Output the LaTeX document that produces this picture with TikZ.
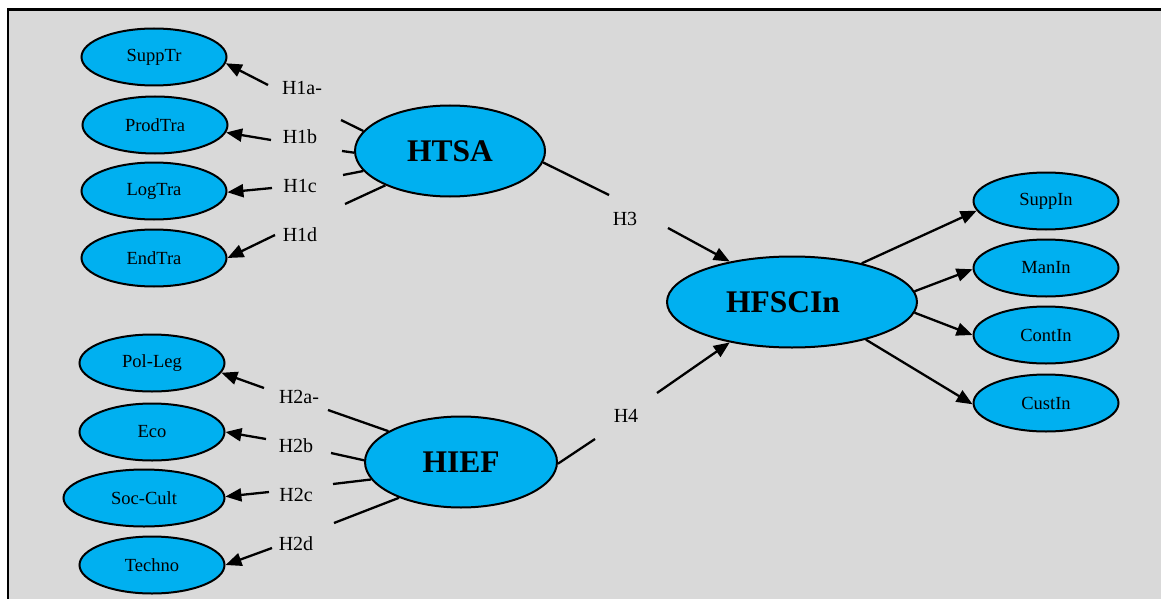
\documentclass[tikz,border=0pt]{standalone}
\usepackage{fontspec}
\setmainfont{Liberation Serif}
\usetikzlibrary{shapes.geometric,arrows.meta}
\definecolor{bgray}{HTML}{D9D9D9}
\definecolor{ecyan}{HTML}{00B0F0}
\begin{document}
\begin{tikzpicture}[x=1pt,y=-1pt,
  ell/.style={ellipse, draw=black, line width=2pt, fill=ecyan, inner sep=0pt,
    minimum width=145pt, minimum height=57pt, font=\fontsize{18.5}{20}\selectfont},
  big/.style={ellipse, draw=black, line width=2pt, fill=ecyan, inner sep=0pt,
    minimum height=91pt, font=\fontsize{31.5}{34}\selectfont\bfseries},
  hlab/.style={inner sep=0pt, font=\fontsize{20}{22}\selectfont},
  seg/.style={line width=2.3pt},
  arr/.style={line width=2.3pt, -{Triangle[length=16pt,width=13pt]}},
]
\useasboundingbox (0,0) rectangle (1161,599);
\fill[white] (0,0) rectangle (1161,599);
\begin{scope}
  \clip (0,0) rectangle (1161,599);
  \fill[bgray] (8,9.5) rectangle (1175,615);
  \draw[line width=2.2pt] (8,620) -- (8,9.5) -- (1175,9.5);
\end{scope}

% left top group
\node[ell] (supptr) at (154,57) {SuppTr};
\node[ell] (prodtra) at (155,125) {ProdTra};
\node[ell] (logtra) at (154,191) {LogTra};
\node[ell] (endtra) at (154,258) {EndTra};
% left bottom group
\node[ell] (polleg) at (152,363) {Pol-Leg};
\node[ell] (eco) at (152,432) {Eco};
\node[ell, minimum width=161pt] (soccult) at (144,498) {Soc-Cult};
\node[ell] (techno) at (152,565) {Techno};
% right group
\node[ell] (suppin) at (1046,201) {SuppIn};
\node[ell] (manin) at (1046,268) {ManIn};
\node[ell] (contin) at (1046,335) {ContIn};
\node[ell] (custin) at (1046,403) {CustIn};
% big nodes
\node[big, minimum width=190pt] (htsa) at (450,151) {HTSA};
\node[big, minimum width=192pt] (hief) at (461,462) {HIEF};
\node[big, minimum width=250pt] (hfscin) at (792,302) {\hspace*{-18pt}HFSCIn};

% labels
\node[hlab] (l1a) at (302,88) {H1a-};
\node[hlab] (l1b) at (300,137) {H1b};
\node[hlab] (l1c) at (300,186) {H1c};
\node[hlab] (l1d) at (300,235) {H1d};
\node[hlab] (l2a) at (299,397) {H2a-};
\node[hlab] (l2b) at (296,446) {H2b};
\node[hlab] (l2c) at (296,495) {H2c};
\node[hlab] (l2d) at (296,544) {H2d};
\node[hlab] (l3) at (625,219) {H3};
\node[hlab] (l4) at (626,416) {H4};

% break points
\coordinate (a1a) at (268,85);  \coordinate (b1a) at (341,120);
\coordinate (a1b) at (271,140); \coordinate (b1b) at (342,151);
\coordinate (a1c) at (272,188); \coordinate (b1c) at (343,175);
\coordinate (a1d) at (275,235); \coordinate (b1d) at (345,204);
\coordinate (a2a) at (264,388); \coordinate (b2a) at (328,410);
\coordinate (a2b) at (266,439); \coordinate (b2b) at (331,453);
\coordinate (a2c) at (269,492); \coordinate (b2c) at (333,484);
\coordinate (a2d) at (272,548); \coordinate (b2d) at (334,523);
\coordinate (b3) at (609,195);  \coordinate (a3) at (668,228);
\coordinate (b4) at (595,439);  \coordinate (a4) at (657,393);

% HTSA -> indicators
\draw[seg] (htsa.167.7) -- (b1a);  \draw[arr] (a1a) -- (supptr.-5);
\draw[seg] (htsa.181) -- (b1b);    \draw[arr] (a1b) -- (prodtra.-6.3);
\draw[seg] (htsa.193.9) -- (b1c);  \draw[arr] (a1c) -- (logtra.-1.6);
\draw[seg] (htsa.208.4) -- (b1d);  \draw[arr] (a1d) -- (endtra.0.8);
% HIEF -> indicators
\draw[seg] (hief.157.7) -- (b2a);  \draw[arr] (a2a) -- (polleg.-8.6);
\draw[seg] (hief.179) -- (b2b);    \draw[arr] (a2b) -- (eco.0);
\draw[seg] (hief.191.4) -- (b2c);  \draw[arr] (a2c) -- (soccult.1.4);
\draw[seg] (hief.210.5) -- (b2d);  \draw[arr] (a2d) -- (techno.-0.8);
% H3, H4
\draw[seg] (htsa.-7) -- (b3);      \draw[arr] (a3) -- (hfscin.147.8);
\draw[seg] (hief.-1.8) -- (b4);    \draw[arr] (a4) -- (hfscin.213.5);
% HFSCIn -> indicators
\draw[arr] (hfscin.29.8) -- (suppin.188.6);
\draw[arr] (hfscin.5.8) -- (manin.181);
\draw[arr] (hfscin.-5.4) -- (contin.180);
\draw[arr] (hfscin.-27.6) -- (custin.181.6);
\end{tikzpicture}
\end{document}
